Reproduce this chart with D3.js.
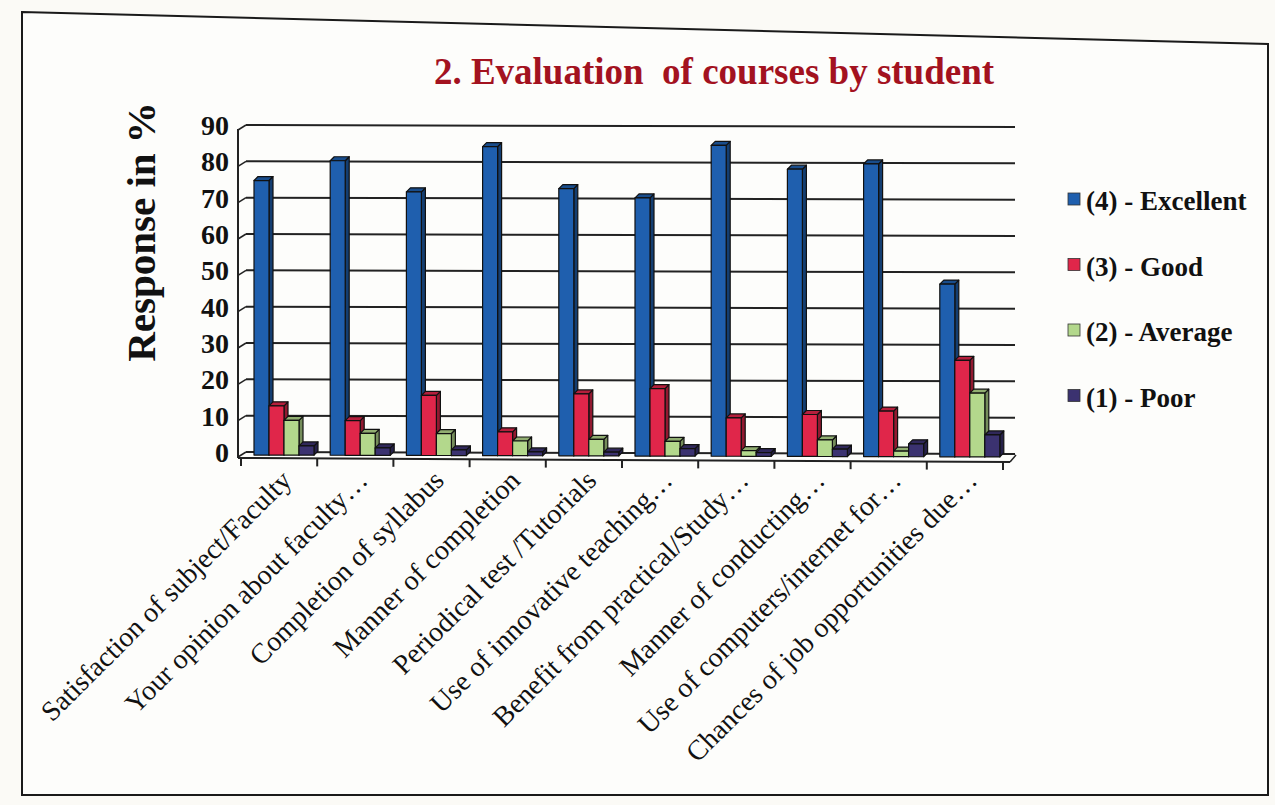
<!DOCTYPE html>
<meta charset="utf-8">
<head>
<style>
  body { margin: 0; background: #fbfaf6; }
  .tick-label { font: bold 28px "Liberation Serif", serif; fill: #111; }
  .cat-label { font: 28px "Liberation Serif", serif; fill: #111; }
  .legend text { font: bold 27px "Liberation Serif", serif; fill: #111; }
</style>
</head>
<body>
<script src="https://d3js.org/d3.v7.min.js"></script>
<script>
  // chart data
  var categories = [
    "Satisfaction of subject/Faculty",
    "Your opinion about faculty\u2026",
    "Completion of syllabus",
    "Manner of completion",
    "Periodical test /Tutorials",
    "Use of innovative teaching\u2026",
    "Benefit from practical/Study\u2026",
    "Manner of conducting\u2026",
    "Use of computers/internet for\u2026",
    "Chances of job opportunities due\u2026"
  ];
  var seriesNames = ["(4) - Excellent", "(3) - Good", "(2) - Average", "(1) - Poor"];
  var excellent = [75, 80.5, 72, 84.5, 73, 70.5, 85, 78.5, 80, 47];
  var good      = [13, 9, 16, 6, 16.5, 18, 10, 11, 12, 26];
  var average   = [9, 5.5, 5.5, 3.5, 4, 3.5, 1, 4, 1, 17];
  var poor      = [2, 1.5, 1, 0.5, 0.5, 1.5, 0.5, 1.5, 3, 5.5];
  var yTicks = [0, 10, 20, 30, 40, 50, 60, 70, 80, 90];

  var seriesValues = [excellent, good, average, poor];
  var colors = ["#1f5fae", "#e0264a", "#b3d88c", "#3b3270"];

  var W = 1275, H = 805;
  var svg = d3.select("body").append("svg")
      .attr("width", W).attr("height", H);

  // photo frame
  svg.append("path")
      .attr("d", "M22,12 L1268,44 L1268,795 L22,795 Z")
      .attr("fill", "#fdfdfb").attr("stroke", "#1a1a1a").attr("stroke-width", 2);

  var x0 = d3.scaleBand().domain(categories).range([241, 1003]);
  var x1 = d3.scaleBand().domain(seriesNames).range([13, 73]);
  var y = d3.scaleLinear().domain([0, 90]).range([452, 125]);
  var depth = 4;

  // back wall gridlines
  var grid = svg.append("g");
  yTicks.forEach(function (t) {
    grid.append("line")
        .attr("x1", 246).attr("x2", 1015)
        .attr("y1", y(t)).attr("y2", y(t) + 2)
        .attr("stroke", "#222").attr("stroke-width", 2);
    grid.append("line")
        .attr("x1", 238).attr("x2", 246)
        .attr("y1", y(t) + 5).attr("y2", y(t))
        .attr("stroke", "#222").attr("stroke-width", 1.5);
    grid.append("text")
        .attr("class", "tick-label")
        .attr("x", 229).attr("y", y(t) + 10)
        .attr("text-anchor", "end")
        .text(t);
  });
  // y axis line
  svg.append("line")
      .attr("x1", 238).attr("x2", 238)
      .attr("y1", y(90) + 4).attr("y2", y(0) + 6)
      .attr("stroke", "#222").attr("stroke-width", 2);

  // floor / x axis
  svg.append("line")
      .attr("x1", 238).attr("x2", 1010)
      .attr("y1", y(0) + 6).attr("y2", y(0) + 10)
      .attr("stroke", "#222").attr("stroke-width", 2);
  svg.append("line")
      .attr("x1", 1010).attr("x2", 1016)
      .attr("y1", y(0) + 10).attr("y2", y(0) + 3)
      .attr("stroke", "#222").attr("stroke-width", 1.5);
  var bounds = categories.map(function (c) { return x0(c); }).concat([x0.range()[1]]);
  bounds.forEach(function (b) {
    var yy = y(0) + 6 + 4 * (b - 238) / 772;
    svg.append("line")
        .attr("x1", b).attr("x2", b)
        .attr("y1", yy).attr("y2", yy + 8)
        .attr("stroke", "#222").attr("stroke-width", 2);
  });

  // bars with a little 3D depth
  var bars = svg.append("g");
  categories.forEach(function (c, ci) {
    seriesNames.forEach(function (s, si) {
      var v = seriesValues[si][ci];
      var bx = x0(c) + x1(s);
      var bw = x1.bandwidth();
      var slope = 2 * (bx - 238) / 772;
      var base = y(0) + 3 + slope;
      var top = Math.min(y(v) + slope + 1, base - 1);
      var col = d3.color(colors[si]);
      var g = bars.append("g").attr("stroke", "#111").attr("stroke-width", 1.2)
          .attr("stroke-linejoin", "round");
      g.append("polygon")
          .attr("points", [[bx + bw, top], [bx + bw + depth, top - depth],
                           [bx + bw + depth, base - depth], [bx + bw, base]].join(" "))
          .attr("fill", col.darker(1.2));
      g.append("polygon")
          .attr("points", [[bx, top], [bx + depth, top - depth],
                           [bx + bw + depth, top - depth], [bx + bw, top]].join(" "))
          .attr("fill", col.darker(0.6));
      g.append("rect")
          .attr("x", bx).attr("y", top)
          .attr("width", bw).attr("height", base - top)
          .attr("fill", colors[si]);
    });
  });

  // category labels
  categories.forEach(function (c) {
    var cx = x0(c) + x0.bandwidth() / 2 + 14;
    svg.append("text")
        .attr("class", "cat-label")
        .attr("text-anchor", "end")
        .attr("transform", "translate(" + cx + "," + 482 + ") rotate(-45)")
        .text(c);
  });

  // titles
  svg.append("text")
      .attr("x", 714).attr("y", 84)
      .attr("text-anchor", "middle")
      .style("font", "bold 37px 'Liberation Serif', serif")
      .style("white-space", "pre")
      .attr("fill", "#a3121f")
      .text("2. Evaluation  of courses by student");

  svg.append("text")
      .attr("transform", "translate(155,232) rotate(-90)")
      .attr("text-anchor", "middle")
      .style("font", "bold 41px 'Liberation Serif', serif")
      .attr("fill", "#111")
      .text("Response in %");

  // legend
  var legend = svg.append("g").attr("class", "legend");
  seriesNames.forEach(function (s, i) {
    var ly = 201 + i * 65.5;
    legend.append("rect")
        .attr("x", 1068).attr("y", ly - 8)
        .attr("width", 12).attr("height", 12)
        .attr("fill", colors[i]).attr("stroke", "#333").attr("stroke-width", 0.8);
    legend.append("text")
        .attr("x", 1086).attr("y", ly + 9)
        .text(s);
  });
</script>
</body>
